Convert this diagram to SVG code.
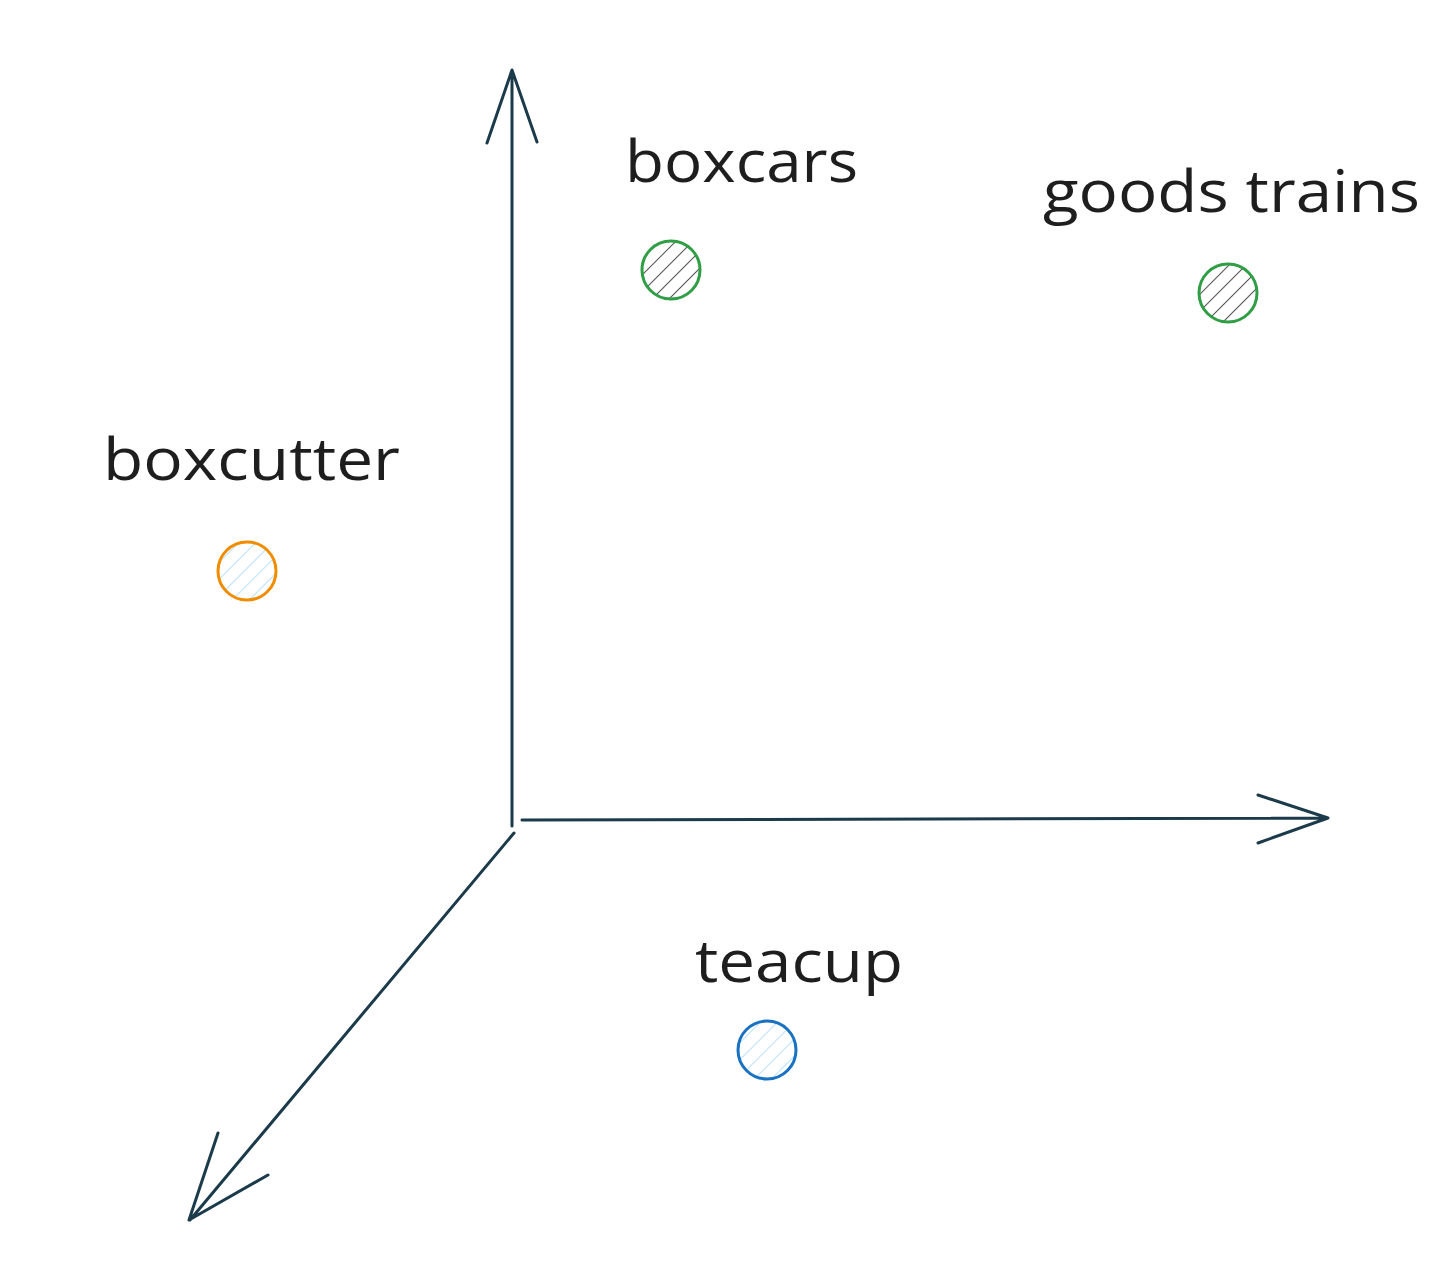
<svg xmlns="http://www.w3.org/2000/svg" width="1456" height="1267" viewBox="0 0 1456 1267">
<style>
.lbl{font-family:"Open Sans","Liberation Sans",sans-serif;font-size:58px;fill:#1e1e1e}
.axis{stroke:#1b3a4a;stroke-width:3;fill:none;stroke-linecap:round;stroke-linejoin:round}
.dot{stroke-width:3}
</style>
<defs>
<pattern id="hDark" patternUnits="userSpaceOnUse" width="12" height="12" patternTransform="rotate(45)">
<line x1="0" y1="0" x2="0" y2="12" stroke="#2a2a2a" stroke-width="1.6"/>
</pattern>
<pattern id="hBlue" patternUnits="userSpaceOnUse" width="12" height="12" patternTransform="rotate(45)">
<line x1="0" y1="0" x2="0" y2="12" stroke="#a5d8ff" stroke-width="1.6"/>
</pattern>
</defs>
<rect width="1456" height="1267" fill="#ffffff"/>
<g id="connectors">
<path class="axis" d="M512 826 L512 72 M487 143 L512 70 L537 142"/>
<path class="axis" d="M522 820 L1328 818 M1258 795 L1328 818 L1258 843"/>
<path class="axis" d="M514 833 L190 1220 M218 1133 L189 1220 L268 1175"/>
</g>
<g id="boxcars">
<text class="lbl" x="625" y="182" textLength="233" lengthAdjust="spacingAndGlyphs">boxcars</text>
<circle class="dot" cx="671" cy="270" r="29" fill="url(#hDark)" stroke="#2f9e44"/>
</g>
<g id="goods-trains">
<text class="lbl" x="1043" y="212" textLength="377" lengthAdjust="spacingAndGlyphs">goods trains</text>
<circle class="dot" cx="1228" cy="293" r="29" fill="url(#hDark)" stroke="#2f9e44"/>
</g>
<g id="boxcutter">
<text class="lbl" x="103" y="480" textLength="297" lengthAdjust="spacingAndGlyphs">boxcutter</text>
<circle class="dot" cx="247" cy="571" r="29" fill="url(#hBlue)" stroke="#f08c00"/>
</g>
<g id="teacup">
<text class="lbl" x="695" y="982" textLength="208" lengthAdjust="spacingAndGlyphs">teacup</text>
<circle class="dot" cx="767" cy="1050" r="29" fill="url(#hBlue)" stroke="#1971c2"/>
</g>
</svg>
